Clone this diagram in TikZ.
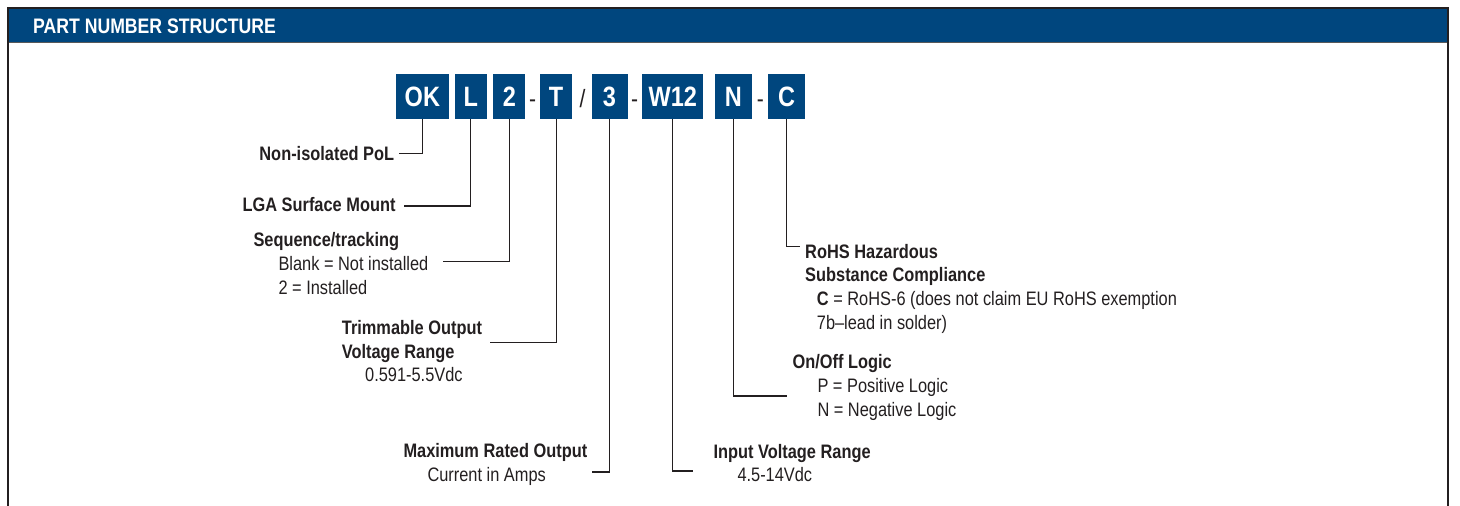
\documentclass[tikz,border=0pt]{standalone}
\usepackage{fontspec}
\setmainfont{Liberation Sans}[FakeStretch=0.84]
\definecolor{hdrblue}{RGB}{0,70,126}
\definecolor{ink}{RGB}{35,31,32}
\begin{document}
\begin{tikzpicture}[x=1pt,y=-1pt,
  pbox/.style={fill=hdrblue, draw=none, minimum height=45pt, inner sep=0pt,
    text=white, font=\fontsize{28}{30}\selectfont\bfseries, text height=20pt, text depth=0pt},
  sep/.style={anchor=base, inner sep=0pt, text=ink, font=\fontsize{25}{26}\selectfont},
  lbl/.style={inner sep=0pt, text=ink, align=left, font=\fontsize{19.5}{23.7}\selectfont},
  conn/.style={draw=ink, line width=1.1pt}]
\useasboundingbox (0,0) rectangle (1460,506);
% frame and header
\fill[hdrblue] (8.2,8.2) rectangle (1447.5,42);
\draw[gray!70!black, line width=1pt] (8.2,42.6) -- (1447.5,42.6);
\draw[ink, line width=2pt] (8.2,506) -- (8.2,8.2) -- (1447.5,8.2) -- (1447.5,506);
\node[anchor=base west, inner sep=0pt, text=white, font=\fontsize{21}{24}\selectfont\bfseries] (title) at (33,33.3) {PART NUMBER STRUCTURE};
% part number boxes
\node[pbox, minimum width=53.3pt] (ok) at (422.35,96.3) {OK};
\node[pbox, minimum width=31.7pt] (l) at (470.85,96.3) {L};
\node[pbox, minimum width=32pt] (two) at (509.3,96.3) {2};
\node[sep] (d1) at (532.5,107) {-};
\node[pbox, minimum width=31.7pt] (t) at (556.15,96.3) {T};
\node[sep] (sl) at (582.5,107) {/};
\node[pbox, minimum width=36pt] (three) at (609.5,96.3) {3};
\node[sep] (d2) at (634.5,107) {-};
\node[pbox, minimum width=61pt] (w12) at (672.8,96.3) {W12};
\node[pbox, minimum width=36.7pt] (n) at (733.35,96.3) {N};
\node[sep] (d3) at (760.3,107) {-};
\node[pbox, minimum width=36.7pt] (c) at (786.65,96.3) {C};
% labels (multi-line nodes anchored at the baseline of their last line)
\node[lbl, anchor=base east] (pol) at (394.3,160.7) {\bfseries Non-isolated PoL};
\node[lbl, anchor=base east] (lga) at (395.7,211.7) {\bfseries LGA Surface Mount};
\node[lbl, anchor=base west] (seq) at (253.3,294.1) {{\bfseries Sequence/tracking}\\\hspace*{25pt}Blank = Not installed\\\hspace*{25pt}2 = Installed};
\node[lbl, anchor=base west] (trim) at (341.7,381.7) {{\bfseries Trimmable Output}\\{\bfseries Voltage Range}\\\hspace*{23.3pt}0.591-5.5Vdc};
\node[lbl, anchor=base west] (maxout) at (403.3,481.5) {{\bfseries Maximum Rated Output}\\\hspace*{24pt}Current in Amps};
\node[lbl, anchor=base west] (invr) at (713.3,481.8) {{\bfseries Input Voltage Range}\\\hspace*{24pt}4.5-14Vdc};
\node[lbl, anchor=base west] (rohs) at (805,329.3) {{\bfseries RoHS Hazardous}\\{\bfseries Substance Compliance}\\\hspace*{11.7pt}{\bfseries C} = RoHS-6 (does not claim EU RoHS exemption\\\hspace*{11.7pt}7b–lead in solder)};
\node[lbl, anchor=base west] (onoff) at (792.3,416.2) {{\bfseries On/Off Logic}\\\hspace*{25pt}P = Positive Logic\\\hspace*{25pt}N = Negative Logic};
% connector ends
\coordinate (polend) at (399,153.3);
\coordinate (lgaend) at (404,206);
\coordinate (seqend) at (442.7,261.7);
\coordinate (trimend) at (490.3,342.3);
\coordinate (maxend) at (592.3,472);
\coordinate (invend) at (692.7,471);
\coordinate (onoffend) at (786.7,396);
\coordinate (rohsend) at (800,246.7);
% connectors
\draw[conn] (ok.south) |- (polend);
\draw[conn] (l.south) |- (lgaend);
\draw[conn] (two.south) |- (seqend);
\draw[conn] (t.south) |- (trimend);
\draw[conn] (three.south) |- (maxend);
\draw[conn] (w12.south) |- (invend);
\draw[conn] (n.south) |- (onoffend);
\draw[conn] (c.south) |- (rohsend);
\end{tikzpicture}
\end{document}
